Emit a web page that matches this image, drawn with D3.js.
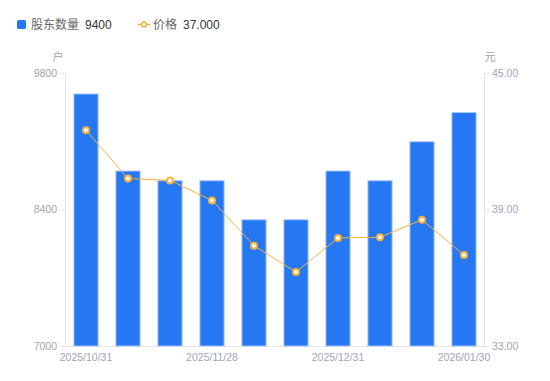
<!DOCTYPE html>
<html>
<head>
<meta charset="utf-8">
<script src="https://cdn.jsdelivr.net/npm/d3@7"></script>
<style>
  body { margin: 0; background: #fff; }
  svg { font-family: "Noto Sans CJK SC", "Noto Sans", sans-serif; }
  .axis-label { fill: #a3a3b3; font-size: 11px; }
</style>
</head>
<body>
<div id="chart"></div>
<script>
var dates = ["2025/10/31", "2025/11/10", "2025/11/20", "2025/11/28", "2025/12/10",
             "2025/12/19", "2025/12/31", "2026/01/09", "2026/01/20", "2026/01/30"];
var holders = [9590, 8800, 8700, 8700, 8300, 8300, 8800, 8700, 9100, 9400];
var prices = [42.48, 40.36, 40.28, 39.40, 37.41, 36.25, 37.75, 37.78, 38.55, 37.00];
var leftTicks = [7000, 8400, 9800];
var rightTicks = [33, 39, 45];
var shownDates = ["2025/10/31", "2025/11/28", "2025/12/31", "2026/01/30"];

var width = 550, height = 381;
var margin = { left: 65, right: 65, top: 73, bottom: 35 };
var barColor = "#2677f2", lineColor = "#f7b23b";
var numFont = "'Liberation Sans', Arial, sans-serif";

var svg = d3.select("#chart").append("svg")
    .attr("width", width)
    .attr("height", height)

var x = d3.scaleBand()
    .domain(dates)
    .range([margin.left, width - margin.right])
    .paddingInner(0.4)
    .paddingOuter(0.2)

var yLeft = d3.scaleLinear()
    .domain([7000, 9800])
    .range([height - margin.bottom, margin.top])

var yRight = d3.scaleLinear()
    .domain([33, 45])
    .range([height - margin.bottom, margin.top])

// axes
var leftAxis = svg.append("g")
    .attr("transform", "translate(" + margin.left + ",0)")
    .call(d3.axisLeft(yLeft).tickValues(leftTicks).tickSize(5).tickPadding(3).tickFormat(d3.format("d")))

var rightAxis = svg.append("g")
    .attr("transform", "translate(" + (width - margin.right - 1) + ",0)")
    .call(d3.axisRight(yRight).tickValues(rightTicks).tickSize(5).tickPadding(3).tickFormat(d3.format(".2f")))

var bottomAxis = svg.append("g")
    .attr("transform", "translate(0," + (height - margin.bottom) + ")")
    .call(d3.axisBottom(x).tickValues(shownDates).tickSize(0).tickPadding(8))

svg.selectAll(".domain").attr("stroke", "#e3e3e8")
svg.selectAll(".tick line").attr("stroke", "#e3e3e8")
svg.selectAll(".tick text")
    .attr("fill", "#a3a3b3")
    .style("font-family", numFont)
    .style("font-size", "10.5px")
bottomAxis.select(".domain").attr("d", "M" + margin.left + ",0.5H" + (width - margin.right))

// unit labels
svg.append("text").attr("class", "axis-label")
    .attr("x", 58).attr("y", 61).attr("text-anchor", "middle").text("户")
svg.append("text").attr("class", "axis-label")
    .attr("x", 490).attr("y", 61).attr("text-anchor", "middle").text("元")

// bars
svg.append("g").selectAll("rect")
    .data(holders)
    .enter().append("rect")
        .attr("x", function(d, i) { return x(dates[i]) + 0.5 })
        .attr("y", function(d) { return yLeft(d) + 0.5 })
        .attr("width", x.bandwidth() - 1)
        .attr("height", function(d) { return yLeft(7000) - yLeft(d) - 0.5 })
        .attr("fill", barColor)
        .attr("stroke", "#a9c8fa")
        .attr("stroke-width", 1)

// price line
var line = d3.line()
    .x(function(d, i) { return x(dates[i]) + x.bandwidth() / 2 })
    .y(function(d) { return yRight(d) })

svg.append("path")
    .datum(prices)
    .attr("d", line)
    .attr("fill", "none")
    .attr("stroke", lineColor)
    .attr("stroke-width", 1)

svg.append("g").selectAll("circle")
    .data(prices)
    .enter().append("circle")
        .attr("cx", function(d, i) { return x(dates[i]) + x.bandwidth() / 2 })
        .attr("cy", function(d) { return yRight(d) })
        .attr("r", 3)
        .attr("fill", "#fff")
        .attr("stroke", lineColor)
        .attr("stroke-width", 2)

// legend
var legend = svg.append("g").style("font-size", "12px")
legend.append("rect")
    .attr("x", 17).attr("y", 20).attr("width", 9).attr("height", 9).attr("rx", 1.5)
    .attr("fill", barColor)
legend.append("text").attr("x", 31).attr("y", 28.5).attr("fill", "#666").text("股东数量")
legend.append("text").attr("x", 85).attr("y", 28.5).attr("fill", "#333")
    .style("font-family", numFont).text(d3.format("d")(holders[holders.length - 1]))

legend.append("line")
    .attr("x1", 138).attr("x2", 150).attr("y1", 24.5).attr("y2", 24.5)
    .attr("stroke", lineColor).attr("stroke-width", 1.5)
legend.append("circle")
    .attr("cx", 144).attr("cy", 24.5).attr("r", 2.5)
    .attr("fill", "#fff").attr("stroke", lineColor).attr("stroke-width", 1.5)
legend.append("text").attr("x", 153).attr("y", 28.5).attr("fill", "#666").text("价格")
legend.append("text").attr("x", 183).attr("y", 28.5).attr("fill", "#333")
    .style("font-family", numFont).text(d3.format(".3f")(prices[prices.length - 1]))
</script>
</body>
</html>
